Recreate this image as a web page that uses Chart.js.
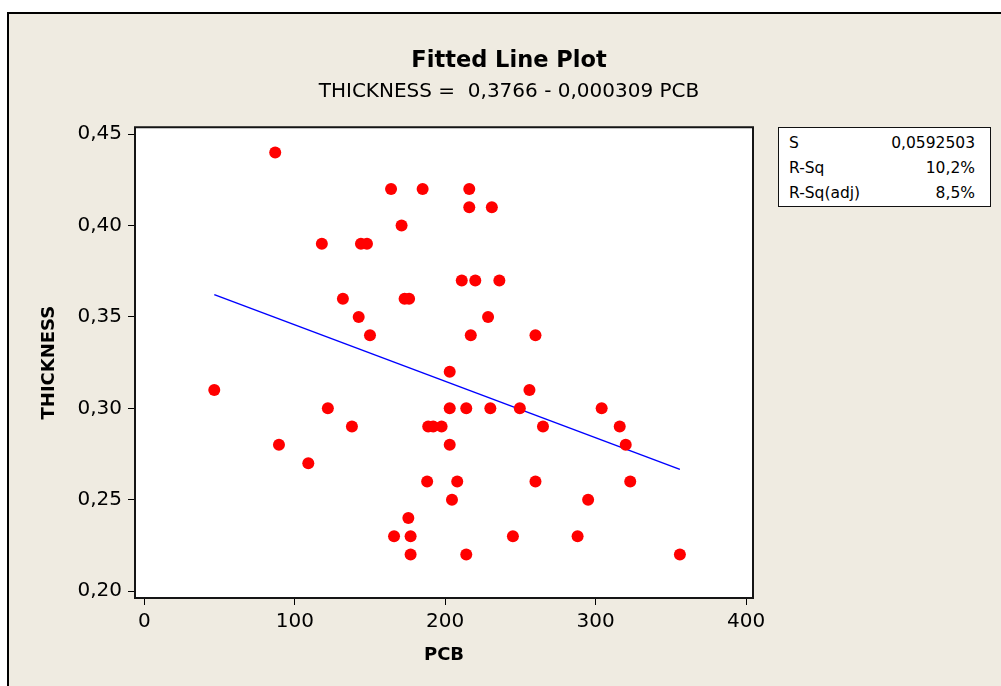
<!DOCTYPE html>
<html>
<head>
<meta charset="utf-8">
<title>Fitted Line Plot</title>
<script src="https://cdn.jsdelivr.net/npm/chart.js@4.4.1/dist/chart.umd.min.js"></script>
<style>
    html, body { margin: 0; padding: 0; background: #fff; }
    #wrap { position: relative; width: 1001px; height: 686px; overflow: hidden; }
    #plot { display: block; }
    .stats {
        position: absolute; left: 778px; top: 127px; width: 211px; height: 78px;
        border: 1px solid #111; background: #fff;
        font-family: "DejaVu Sans", sans-serif; font-size: 15.5px; color: #000;
        box-sizing: content-box;
    }
    .stats table { border-collapse: collapse; margin: 3px 0 0 10px; width: 186px; }
    .stats td { padding: 0; height: 25px; line-height: 25px; white-space: nowrap; }
    .stats td.val { text-align: right; }
</style>
</head>
<body>
<div id="wrap">
    <canvas id="plot" width="1001" height="686"></canvas>
    <div class="stats"><table id="statsTable"></table></div>
</div>
<script>
// datos
const pcb = [46.5, 87, 89.5, 109, 118, 122, 132, 138, 142.5, 144, 148, 150, 164, 166, 171, 173, 176, 175.5, 177, 177,
             185, 188, 188.7, 192, 197.6, 203, 203, 203, 204.5, 208, 211, 214, 214, 216, 216, 217, 220, 228.5, 230, 231,
             236, 245, 249.6, 256, 260, 260, 265, 288, 295, 304, 316, 320, 323, 356];
const thickness = [0.31, 0.44, 0.28, 0.27, 0.39, 0.30, 0.36, 0.29, 0.35, 0.39, 0.39, 0.34, 0.42, 0.23, 0.40, 0.36, 0.36, 0.24, 0.23, 0.22,
                   0.42, 0.26, 0.29, 0.29, 0.29, 0.32, 0.30, 0.28, 0.25, 0.26, 0.37, 0.30, 0.22, 0.42, 0.41, 0.34, 0.37, 0.35, 0.30, 0.41,
                   0.37, 0.23, 0.30, 0.31, 0.34, 0.26, 0.29, 0.23, 0.25, 0.30, 0.29, 0.28, 0.26, 0.22];

// recta ajustada (extremos)
const fitPcb = [46.5, 356];
const fitThickness = [0.3622, 0.2666];

const xTicks = [0, 100, 200, 300, 400];
const yTicks = [0.20, 0.25, 0.30, 0.35, 0.40, 0.45];

const statLabels = ['S', 'R-Sq', 'R-Sq(adj)'];
const statValues = ['0,0592503', '10,2%', '8,5%'];

// tabla de estadisticos
const statsTable = document.getElementById('statsTable');
statLabels.forEach((lbl, i) => {
    const tr = document.createElement('tr');
    const a = document.createElement('td');
    a.textContent = lbl;
    const b = document.createElement('td');
    b.className = 'val';
    b.textContent = statValues[i];
    tr.appendChild(a);
    tr.appendChild(b);
    statsTable.appendChild(tr);
});

const FONT = "'DejaVu Sans', sans-serif";

// fondo, marco y recuadro del area de trazado
const framePlugin = {
    id: 'frame',
    beforeDraw(chart) {
        const ctx = chart.ctx;
        const a = chart.chartArea;
        ctx.save();
        ctx.fillStyle = '#ffffff';
        ctx.fillRect(0, 0, chart.width, chart.height);
        ctx.fillStyle = '#efebe1';
        ctx.fillRect(8, 13, chart.width - 8, chart.height - 13);
        ctx.strokeStyle = '#000';
        ctx.lineWidth = 2;
        ctx.beginPath();
        ctx.moveTo(8, chart.height);
        ctx.lineTo(8, 13);
        ctx.lineTo(chart.width, 13);
        ctx.stroke();
        ctx.fillStyle = '#ffffff';
        ctx.fillRect(a.left, a.top, a.right - a.left, a.bottom - a.top);
        ctx.restore();
    },
    afterDraw(chart) {
        const ctx = chart.ctx;
        const a = chart.chartArea;
        ctx.save();
        ctx.strokeStyle = '#151515';
        ctx.lineWidth = 2;
        ctx.strokeRect(a.left, a.top, a.right - a.left, a.bottom - a.top);
        ctx.restore();
    }
};

const ctx = document.getElementById('plot');
new Chart(ctx, {
    type: 'scatter',
    data: {
        datasets: [
            {
                label: 'THICKNESS',
                data: pcb.map((x, i) => ({ x: x, y: thickness[i] })),
                pointRadius: 6,
                pointHoverRadius: 6,
                pointBackgroundColor: '#ff0000',
                pointBorderWidth: 0,
                showLine: false
            },
            {
                label: 'Fit',
                type: 'line',
                data: fitPcb.map((x, i) => ({ x: x, y: fitThickness[i] })),
                borderColor: '#0000ff',
                borderWidth: 1.5,
                pointRadius: 0,
                fill: false
            }
        ]
    },
    options: {
        responsive: false,
        animation: false,
        events: [],
        layout: { padding: { left: 17, right: 0, top: 0, bottom: 0 } },
        plugins: {
            legend: { display: false },
            tooltip: { enabled: false },
            title: {
                display: true,
                text: 'Fitted Line Plot',
                color: '#000',
                font: { family: FONT, size: 22.5, weight: 'bold', lineHeight: 1.3 },
                padding: { top: 47, bottom: 3 }
            },
            subtitle: {
                display: true,
                text: 'THICKNESS =  0,3766 - 0,000309 PCB',
                color: '#000',
                font: { family: FONT, size: 20, lineHeight: 1.2 },
                padding: { top: 1, bottom: 23 }
            }
        },
        scales: {
            x: {
                type: 'linear',
                min: -6.2,
                max: 404.6,
                afterBuildTicks: s => { s.ticks = xTicks.map(v => ({ value: v })); },
                afterFit: s => { s.height = 88; },
                ticks: {
                    color: '#000',
                    font: { family: FONT, size: 20 },
                    padding: 5,
                    callback: v => String(v)
                },
                grid: { display: true, drawOnChartArea: false, drawTicks: true, tickLength: 7, color: '#000', lineWidth: 1 },
                border: { display: false },
                title: {
                    display: true,
                    text: 'PCB',
                    color: '#000',
                    font: { family: FONT, size: 18, weight: 'bold', lineHeight: 1.2 },
                    padding: { top: 0, bottom: 20 }
                }
            },
            y: {
                type: 'linear',
                position: 'left',
                min: 0.1962,
                max: 0.4538,
                afterBuildTicks: s => { s.ticks = yTicks.map(v => ({ value: v })); },
                afterFit: s => { s.width = 118; },
                ticks: {
                    color: '#000',
                    font: { family: FONT, size: 20 },
                    padding: 6,
                    callback: v => v.toFixed(2).replace('.', ',')
                },
                grid: { display: true, drawOnChartArea: false, drawTicks: true, tickLength: 7, color: '#000', lineWidth: 1 },
                border: { display: false },
                title: {
                    display: true,
                    text: 'THICKNESS',
                    color: '#000',
                    font: { family: FONT, size: 18, weight: 'bold', lineHeight: 1.2 },
                    padding: { top: 22, bottom: 0 }
                }
            },
            // eje vacio a la derecha solo para reservar el espacio del cuadro de estadisticos
            yRight: {
                type: 'linear',
                position: 'right',
                display: true,
                ticks: { display: false },
                grid: { display: false },
                border: { display: false },
                afterFit: s => { s.width = 248; }
            }
        }
    },
    plugins: [framePlugin]
});
</script>
</body>
</html>
